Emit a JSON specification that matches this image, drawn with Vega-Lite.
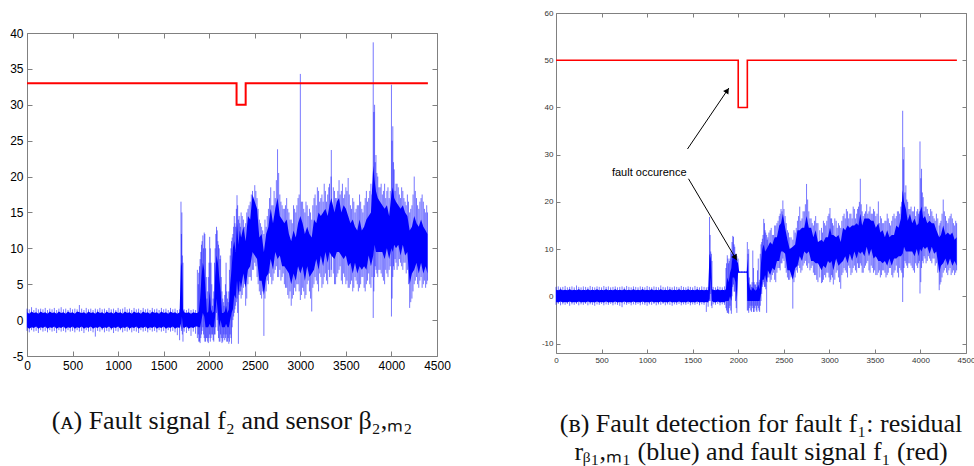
{
"$schema": "https://vega.github.io/schema/vega-lite/v6.json",
"background": "white",
"padding": {"left": 9, "top": 8, "right": 0, "bottom": 0},
"spacing": 89,
"config": {
  "locale": {"number": {"decimal": ".", "thousands": ",", "grouping": [3], "currency": ["", ""], "minus": "-"}},
  "view": {"stroke": "#808080", "strokeWidth": 1},
  "axis": {"labelFlush": false, "labelOverlap": false, "grid": false, "domain": false, "tickColor": "#808080", "labelFont": "Liberation Sans", "format": "d"}
},
"datasets": {
"sigA": [
{"t":0,"lo":-1.5,"hi":1.6,"clo":-1.0,"chi":1.1},{"t":25,"lo":-1.7,"hi":1.5,"clo":-1.2,"chi":0.9},{"t":50,"lo":-1.4,"hi":1.8,"clo":-1.0,"chi":1.2},{"t":75,"lo":-1.6,"hi":1.4,"clo":-1.1,"chi":1.0},{"t":100,"lo":-1.5,"hi":1.7,"clo":-0.9,"chi":1.1},{"t":125,"lo":-1.8,"hi":1.5,"clo":-1.2,"chi":0.9},{"t":150,"lo":-1.4,"hi":1.6,"clo":-1.0,"chi":1.2},{"t":175,"lo":-1.6,"hi":1.5,"clo":-1.1,"chi":1.0},{"t":200,"lo":-1.5,"hi":1.7,"clo":-0.9,"chi":1.1},{"t":225,"lo":-1.7,"hi":1.4,"clo":-1.2,"chi":0.9},{"t":250,"lo":-1.4,"hi":1.6,"clo":-1.0,"chi":1.2},{"t":275,"lo":-1.6,"hi":1.5,"clo":-1.1,"chi":1.0},{"t":300,"lo":-1.5,"hi":1.7,"clo":-0.9,"chi":1.1},{"t":325,"lo":-1.8,"hi":1.4,"clo":-1.2,"chi":0.9},{"t":350,"lo":-1.4,"hi":1.6,"clo":-1.0,"chi":1.2},{"t":375,"lo":-1.6,"hi":1.8,"clo":-1.1,"chi":1.0},{"t":400,"lo":-1.5,"hi":1.5,"clo":-0.9,"chi":1.1},{"t":425,"lo":-1.7,"hi":1.6,"clo":-1.2,"chi":0.9},{"t":450,"lo":-1.4,"hi":1.4,"clo":-1.0,"chi":1.2},{"t":475,"lo":-1.6,"hi":1.7,"clo":-1.1,"chi":1.0},{"t":500,"lo":-1.5,"hi":1.5,"clo":-0.9,"chi":1.1},{"t":525,"lo":-1.7,"hi":1.6,"clo":-1.2,"chi":0.9},{"t":550,"lo":-1.4,"hi":1.5,"clo":-1.0,"chi":1.2},{"t":575,"lo":-1.6,"hi":2.1,"clo":-1.1,"chi":1.1},{"t":600,"lo":-1.5,"hi":1.6,"clo":-0.9,"chi":1.0},{"t":625,"lo":-1.8,"hi":1.4,"clo":-1.2,"chi":1.1},{"t":650,"lo":-1.4,"hi":1.7,"clo":-1.0,"chi":0.9},{"t":675,"lo":-1.6,"hi":1.5,"clo":-1.1,"chi":1.2},{"t":700,"lo":-1.5,"hi":1.6,"clo":-0.9,"chi":1.0},{"t":725,"lo":-1.7,"hi":1.4,"clo":-1.2,"chi":1.1},{"t":750,"lo":-2.3,"hi":1.6,"clo":-1.0,"chi":0.9},{"t":775,"lo":-1.5,"hi":1.5,"clo":-1.1,"chi":1.2},{"t":800,"lo":-1.6,"hi":1.7,"clo":-0.9,"chi":1.0},{"t":825,"lo":-1.4,"hi":1.5,"clo":-1.2,"chi":1.1},{"t":850,"lo":-1.7,"hi":1.6,"clo":-1.0,"chi":0.9},{"t":875,"lo":-1.5,"hi":1.4,"clo":-1.1,"chi":1.2},{"t":900,"lo":-1.6,"hi":1.7,"clo":-0.9,"chi":1.0},{"t":925,"lo":-1.4,"hi":1.5,"clo":-1.2,"chi":1.1},{"t":950,"lo":-1.8,"hi":1.6,"clo":-1.0,"chi":0.9},{"t":975,"lo":-1.5,"hi":1.4,"clo":-1.1,"chi":1.2},{"t":1000,"lo":-1.6,"hi":1.7,"clo":-0.9,"chi":1.0},{"t":1025,"lo":-1.4,"hi":1.5,"clo":-1.2,"chi":1.1},{"t":1050,"lo":-1.7,"hi":1.6,"clo":-1.0,"chi":0.9},{"t":1075,"lo":-1.5,"hi":1.8,"clo":-1.1,"chi":1.2},{"t":1100,"lo":-1.6,"hi":1.5,"clo":-0.9,"chi":1.0},{"t":1125,"lo":-1.4,"hi":1.6,"clo":-1.2,"chi":1.1},{"t":1150,"lo":-1.7,"hi":1.4,"clo":-1.0,"chi":0.9},{"t":1175,"lo":-1.5,"hi":1.7,"clo":-1.1,"chi":1.2},{"t":1200,"lo":-1.6,"hi":1.5,"clo":-0.9,"chi":1.0},{"t":1225,"lo":-1.8,"hi":1.6,"clo":-1.2,"chi":1.1},{"t":1250,"lo":-1.4,"hi":1.4,"clo":-1.0,"chi":0.9},{"t":1275,"lo":-1.6,"hi":1.7,"clo":-1.1,"chi":1.2},{"t":1300,"lo":-1.5,"hi":1.5,"clo":-0.9,"chi":1.0},{"t":1325,"lo":-1.7,"hi":1.6,"clo":-1.2,"chi":1.1},{"t":1350,"lo":-1.4,"hi":1.4,"clo":-1.0,"chi":0.9},{"t":1375,"lo":-1.6,"hi":1.7,"clo":-1.1,"chi":1.2},{"t":1400,"lo":-1.5,"hi":1.5,"clo":-0.9,"chi":1.0},{"t":1425,"lo":-1.7,"hi":1.6,"clo":-1.2,"chi":1.1},{"t":1450,"lo":-1.4,"hi":1.4,"clo":-1.0,"chi":0.9},{"t":1475,"lo":-1.6,"hi":1.7,"clo":-1.1,"chi":1.2},{"t":1500,"lo":-1.5,"hi":1.5,"clo":-0.9,"chi":1.0},{"t":1525,"lo":-1.8,"hi":1.6,"clo":-1.2,"chi":1.1},{"t":1550,"lo":-1.4,"hi":1.4,"clo":-1.0,"chi":0.9},{"t":1575,"lo":-1.6,"hi":1.7,"clo":-1.1,"chi":1.2},{"t":1600,"lo":-1.5,"hi":1.5,"clo":-0.9,"chi":1.0},{"t":1625,"lo":-1.7,"hi":1.6,"clo":-1.2,"chi":1.1},{"t":1650,"lo":-2.1,"hi":1.4,"clo":-1.0,"chi":0.9},{"t":1675,"lo":-2.8,"hi":1.5,"clo":-1.1,"chi":1.1},
{"t":1690,"lo":-1.0,"hi":16.5,"clo":-0.5,"chi":8.0},{"t":1700,"lo":-1.2,"hi":15.0,"clo":0.5,"chi":7.5},{"t":1712,"lo":-3.0,"hi":8.0,"clo":-1.0,"chi":1.5},{"t":1725,"lo":-1.6,"hi":1.5,"clo":-1.1,"chi":1.1},{"t":1750,"lo":-1.8,"hi":1.4,"clo":-0.9,"chi":1.0},{"t":1775,"lo":-1.5,"hi":1.6,"clo":-1.2,"chi":1.1},{"t":1800,"lo":-2.2,"hi":1.4,"clo":-1.0,"chi":0.9},{"t":1825,"lo":-1.6,"hi":1.5,"clo":-1.1,"chi":1.1},{"t":1850,"lo":-1.9,"hi":1.4,"clo":-0.9,"chi":1.0},{"t":1870,"lo":-2.5,"hi":7.0,"clo":-0.9,"chi":1.0},{"t":1885,"lo":-3.0,"hi":6.6,"clo":-1.0,"chi":1.2},{"t":1900,"lo":-3.2,"hi":8.5,"clo":-1.0,"chi":3.0},{"t":1915,"lo":-2.0,"hi":10.5,"clo":0.0,"chi":6.0},{"t":1930,"lo":-1.0,"hi":11.8,"clo":1.0,"chi":8.0},{"t":1945,"lo":-2.5,"hi":12.2,"clo":0.5,"chi":7.0},{"t":1960,"lo":-3.0,"hi":10.0,"clo":-1.0,"chi":4.0},{"t":1975,"lo":-2.5,"hi":3.0,"clo":-1.0,"chi":1.0},{"t":1990,"lo":-3.2,"hi":6.0,"clo":-1.0,"chi":1.2},{"t":2005,"lo":-2.0,"hi":11.6,"clo":-0.5,"chi":4.0},{"t":2020,"lo":-2.5,"hi":8.0,"clo":-1.0,"chi":1.5},{"t":2035,"lo":-2.0,"hi":2.0,"clo":-1.0,"chi":1.0},{"t":2050,"lo":-3.0,"hi":4.0,"clo":-1.0,"chi":1.2},{"t":2065,"lo":-2.0,"hi":10.0,"clo":0.5,"chi":6.0},{"t":2080,"lo":1.0,"hi":13.0,"clo":3.0,"chi":9.0},{"t":2095,"lo":-1.5,"hi":11.0,"clo":1.0,"chi":8.0},{"t":2110,"lo":-3.0,"hi":10.0,"clo":-1.0,"chi":6.0},{"t":2125,"lo":-2.0,"hi":9.0,"clo":0.0,"chi":4.0},{"t":2140,"lo":-3.2,"hi":4.0,"clo":-1.0,"chi":1.0},{"t":2155,"lo":-2.5,"hi":2.5,"clo":-1.0,"chi":1.0},{"t":2170,"lo":-2.8,"hi":3.5,"clo":-1.0,"chi":1.2},{"t":2185,"lo":-2.0,"hi":8.0,"clo":-0.5,"chi":2.0},{"t":2200,"lo":-3.0,"hi":3.0,"clo":-1.0,"chi":1.0},{"t":2215,"lo":-3.3,"hi":4.0,"clo":-1.0,"chi":1.5},{"t":2230,"lo":-2.0,"hi":9.0,"clo":0.0,"chi":5.0},{"t":2245,"lo":-3.3,"hi":11.0,"clo":1.0,"chi":7.0},
{"t":2260,"lo":0.0,"hi":12.0,"clo":1.5,"chi":10.0},{"t":2275,"lo":1.0,"hi":14.5,"clo":3.5,"chi":11.0},{"t":2290,"lo":2.0,"hi":13.0,"clo":3.0,"chi":9.5},{"t":2305,"lo":3.0,"hi":17.4,"clo":5.5,"chi":13.5},{"t":2320,"lo":-3.3,"hi":14.0,"clo":3.5,"chi":10.5},{"t":2335,"lo":4.0,"hi":13.5,"clo":5.5,"chi":12.5},{"t":2350,"lo":3.0,"hi":15.0,"clo":4.5,"chi":11.5},{"t":2375,"lo":4.5,"hi":14.0,"clo":6.5,"chi":13.0},{"t":2400,"lo":2.0,"hi":13.5,"clo":4.5,"chi":11.0},{"t":2425,"lo":5.0,"hi":15.5,"clo":7.0,"chi":14.5},{"t":2450,"lo":6.0,"hi":16.5,"clo":7.5,"chi":14.0},{"t":2475,"lo":7.0,"hi":18.0,"clo":9.5,"chi":17.5},{"t":2500,"lo":8.0,"hi":18.8,"clo":9.0,"chi":16.5},{"t":2525,"lo":6.0,"hi":17.0,"clo":8.5,"chi":15.5},{"t":2550,"lo":4.0,"hi":14.0,"clo":5.5,"chi":11.5},{"t":2575,"lo":3.0,"hi":13.0,"clo":5.5,"chi":12.0},{"t":2600,"lo":-2.2,"hi":12.0,"clo":3.5,"chi":9.5},{"t":2625,"lo":4.0,"hi":13.0,"clo":6.0,"chi":12.0},{"t":2650,"lo":5.0,"hi":15.5,"clo":6.5,"chi":13.0},{"t":2675,"lo":6.0,"hi":18.5,"clo":8.5,"chi":15.5},{"t":2700,"lo":5.5,"hi":16.0,"clo":7.0,"chi":13.5},{"t":2725,"lo":7.0,"hi":17.0,"clo":9.5,"chi":15.5},{"t":2750,"lo":6.0,"hi":23.8,"clo":8.5,"chi":17.0},{"t":2775,"lo":7.0,"hi":17.5,"clo":9.0,"chi":14.5},{"t":2800,"lo":6.0,"hi":16.0,"clo":7.5,"chi":14.0},{"t":2825,"lo":5.0,"hi":15.5,"clo":7.5,"chi":13.5},{"t":2850,"lo":4.5,"hi":17.0,"clo":7.0,"chi":14.0},{"t":2875,"lo":3.0,"hi":15.0,"clo":6.5,"chi":12.0},{"t":2900,"lo":2.0,"hi":14.0,"clo":5.0,"chi":11.0},{"t":2925,"lo":3.5,"hi":16.0,"clo":6.5,"chi":12.5},{"t":2950,"lo":4.0,"hi":15.0,"clo":5.5,"chi":11.5},{"t":2975,"lo":5.0,"hi":17.0,"clo":7.5,"chi":13.5},{"t":3000,"lo":2.8,"hi":34.3,"clo":6.5,"chi":14.5},{"t":3025,"lo":4.5,"hi":16.5,"clo":7.5,"chi":13.5},{"t":3050,"lo":3.0,"hi":15.0,"clo":5.5,"chi":12.0},{"t":3075,"lo":5.0,"hi":16.0,"clo":7.5,"chi":13.0},{"t":3100,"lo":4.0,"hi":15.5,"clo":6.0,"chi":12.0},{"t":3125,"lo":1.2,"hi":14.0,"clo":6.5,"chi":11.5},{"t":3150,"lo":5.0,"hi":17.0,"clo":7.0,"chi":14.0},{"t":3175,"lo":5.5,"hi":16.0,"clo":8.5,"chi":13.5},{"t":3200,"lo":4.0,"hi":18.0,"clo":7.0,"chi":15.0},{"t":3225,"lo":6.0,"hi":17.0,"clo":9.0,"chi":14.5},{"t":3250,"lo":5.0,"hi":16.5,"clo":7.5,"chi":15.0},{"t":3275,"lo":6.5,"hi":18.0,"clo":9.5,"chi":15.5},{"t":3300,"lo":5.0,"hi":17.5,"clo":8.0,"chi":14.5},{"t":3320,"lo":6.0,"hi":19.0,"clo":9.5,"chi":16.0},{"t":3340,"lo":7.0,"hi":23.7,"clo":9.0,"chi":17.0},{"t":3375,"lo":5.0,"hi":18.0,"clo":8.5,"chi":15.0},{"t":3400,"lo":6.0,"hi":17.0,"clo":9.5,"chi":16.5},{"t":3425,"lo":7.0,"hi":19.5,"clo":9.5,"chi":17.0},{"t":3450,"lo":5.5,"hi":18.0,"clo":9.0,"chi":15.0},{"t":3475,"lo":6.5,"hi":17.0,"clo":8.5,"chi":16.0},{"t":3500,"lo":5.0,"hi":18.5,"clo":9.0,"chi":15.5},{"t":3525,"lo":4.5,"hi":19.8,"clo":7.5,"chi":14.5},{"t":3550,"lo":5.0,"hi":16.0,"clo":8.0,"chi":13.5},{"t":3575,"lo":4.0,"hi":17.0,"clo":6.5,"chi":14.0},{"t":3600,"lo":6.0,"hi":15.0,"clo":8.0,"chi":13.0},{"t":3625,"lo":5.0,"hi":16.0,"clo":6.5,"chi":12.5},{"t":3650,"lo":4.5,"hi":17.5,"clo":7.5,"chi":14.0},{"t":3675,"lo":6.0,"hi":15.5,"clo":7.0,"chi":12.5},{"t":3700,"lo":4.5,"hi":16.0,"clo":7.5,"chi":13.0},{"t":3725,"lo":5.0,"hi":18.0,"clo":7.0,"chi":14.0},{"t":3750,"lo":6.5,"hi":17.0,"clo":9.0,"chi":14.5},{"t":3775,"lo":4.5,"hi":19.0,"clo":7.5,"chi":15.0},{"t":3800,"lo":0.3,"hi":38.7,"clo":9.0,"chi":21.5},{"t":3815,"lo":6.0,"hi":30.0,"clo":10.5,"chi":19.5},{"t":3830,"lo":7.0,"hi":23.0,"clo":9.5,"chi":18.0},{"t":3850,"lo":6.0,"hi":20.0,"clo":9.5,"chi":17.0},{"t":3875,"lo":7.0,"hi":18.5,"clo":9.5,"chi":16.5},{"t":3900,"lo":6.0,"hi":17.5,"clo":9.5,"chi":16.0},{"t":3925,"lo":5.0,"hi":19.0,"clo":8.5,"chi":15.5},{"t":3950,"lo":6.5,"hi":18.0,"clo":10.0,"chi":16.0},{"t":3975,"lo":7.0,"hi":17.0,"clo":8.5,"chi":14.5},{"t":4000,"lo":0.5,"hi":32.8,"clo":10.0,"chi":17.5},{"t":4015,"lo":6.0,"hi":27.0,"clo":9.5,"chi":18.5},{"t":4030,"lo":7.0,"hi":21.0,"clo":10.5,"chi":17.0},{"t":4050,"lo":8.0,"hi":19.0,"clo":10.0,"chi":16.5},{"t":4075,"lo":7.5,"hi":18.5,"clo":10.5,"chi":16.0},{"t":4100,"lo":8.0,"hi":17.0,"clo":9.0,"chi":15.5},{"t":4125,"lo":7.0,"hi":18.0,"clo":10.5,"chi":16.0},{"t":4150,"lo":8.0,"hi":16.5,"clo":9.0,"chi":15.0},{"t":4175,"lo":7.0,"hi":17.5,"clo":9.5,"chi":14.5},{"t":4200,"lo":1.7,"hi":15.0,"clo":5.0,"chi":12.5},{"t":4225,"lo":3.0,"hi":16.0,"clo":6.5,"chi":13.0},{"t":4250,"lo":5.0,"hi":20.0,"clo":7.0,"chi":14.5},{"t":4275,"lo":6.0,"hi":17.0,"clo":8.0,"chi":13.5},{"t":4300,"lo":4.5,"hi":15.5,"clo":6.5,"chi":13.0},{"t":4325,"lo":6.0,"hi":17.0,"clo":8.0,"chi":14.0},{"t":4350,"lo":5.0,"hi":16.5,"clo":6.5,"chi":13.0},{"t":4375,"lo":4.5,"hi":15.0,"clo":7.5,"chi":12.5},{"t":4395,"lo":5.5,"hi":15.0,"clo":6.5,"chi":12.0}
],
"spkA": [
{"t":1695,"lo":-1.5,"hi":12.0},{"t":1705,"lo":-2.0,"hi":9.0},{"t":1880,"lo":-2.0,"hi":5.0},{"t":1893,"lo":-3.0,"hi":7.5},{"t":1908,"lo":-2.5,"hi":9.5},{"t":1922,"lo":-1.5,"hi":11.0},{"t":1938,"lo":-2.0,"hi":10.0},{"t":1952,"lo":-3.0,"hi":12.0},{"t":1968,"lo":-2.5,"hi":6.0},{"t":1983,"lo":-3.0,"hi":4.0},{"t":1998,"lo":-2.5,"hi":8.0},{"t":2012,"lo":-3.0,"hi":10.0},{"t":2028,"lo":-2.0,"hi":5.0},{"t":2043,"lo":-2.8,"hi":3.0},{"t":2058,"lo":-2.0,"hi":8.0},{"t":2072,"lo":-1.0,"hi":12.0},{"t":2088,"lo":0.0,"hi":12.5},{"t":2102,"lo":-2.5,"hi":10.5},{"t":2118,"lo":-3.0,"hi":8.5},{"t":2132,"lo":-2.5,"hi":6.0},{"t":2148,"lo":-3.0,"hi":3.0},{"t":2162,"lo":-2.0,"hi":2.0},{"t":2178,"lo":-2.5,"hi":5.0},{"t":2192,"lo":-3.0,"hi":4.0},{"t":2208,"lo":-2.5,"hi":2.5},{"t":2222,"lo":-3.0,"hi":7.0},{"t":2238,"lo":-2.5,"hi":10.0},{"t":2252,"lo":-1.0,"hi":11.5},{"t":2268,"lo":0.5,"hi":13.0},{"t":2282,"lo":1.5,"hi":13.5},{"t":2298,"lo":2.5,"hi":15.5},{"t":2312,"lo":1.0,"hi":16.0},{"t":2328,"lo":3.5,"hi":14.5},{"t":2342,"lo":4.0,"hi":13.0},
{"t":2362,"lo":3.5,"hi":14.5},{"t":2387,"lo":5.0,"hi":13.0},{"t":2412,"lo":3.0,"hi":15.0},{"t":2437,"lo":6.0,"hi":16.0},{"t":2462,"lo":5.5,"hi":17.5},{"t":2487,"lo":7.0,"hi":16.5},{"t":2512,"lo":7.5,"hi":18.0},{"t":2537,"lo":5.0,"hi":15.5},{"t":2562,"lo":3.5,"hi":13.5},{"t":2587,"lo":4.0,"hi":12.5},{"t":2612,"lo":3.0,"hi":14.0},{"t":2637,"lo":5.5,"hi":14.5},{"t":2662,"lo":6.5,"hi":17.0},{"t":2687,"lo":5.0,"hi":16.0},{"t":2712,"lo":6.5,"hi":18.0},{"t":2737,"lo":7.5,"hi":19.5},{"t":2762,"lo":6.0,"hi":20.5},{"t":2787,"lo":5.5,"hi":16.5},{"t":2812,"lo":6.5,"hi":15.5},{"t":2837,"lo":4.5,"hi":16.0},{"t":2862,"lo":3.5,"hi":15.5},{"t":2887,"lo":4.0,"hi":14.0},{"t":2912,"lo":3.0,"hi":13.5},{"t":2937,"lo":4.5,"hi":15.5},{"t":2962,"lo":5.0,"hi":16.0},{"t":2987,"lo":4.0,"hi":17.5},{"t":3012,"lo":3.5,"hi":16.5},{"t":3037,"lo":4.0,"hi":15.5},{"t":3062,"lo":3.5,"hi":16.5},{"t":3087,"lo":5.5,"hi":14.5},{"t":3112,"lo":3.0,"hi":15.0},{"t":3137,"lo":4.5,"hi":16.0},{"t":3162,"lo":6.0,"hi":17.5},{"t":3187,"lo":5.0,"hi":18.5},{"t":3212,"lo":6.5,"hi":16.5},{"t":3237,"lo":4.5,"hi":17.5},{"t":3262,"lo":6.0,"hi":19.0},{"t":3287,"lo":5.5,"hi":16.5},{"t":3312,"lo":7.0,"hi":18.5},{"t":3337,"lo":6.0,"hi":20.0},{"t":3362,"lo":6.5,"hi":18.5},{"t":3387,"lo":5.0,"hi":17.0},{"t":3412,"lo":6.5,"hi":18.0},{"t":3437,"lo":7.5,"hi":17.5},{"t":3462,"lo":5.0,"hi":19.0},{"t":3487,"lo":6.0,"hi":17.5},{"t":3512,"lo":5.5,"hi":18.0},{"t":3537,"lo":4.5,"hi":17.5},{"t":3562,"lo":5.5,"hi":15.5},{"t":3587,"lo":4.5,"hi":16.5},{"t":3612,"lo":5.5,"hi":15.5},{"t":3637,"lo":4.0,"hi":16.0},{"t":3662,"lo":5.0,"hi":16.5},{"t":3687,"lo":6.0,"hi":15.0},{"t":3712,"lo":4.0,"hi":17.0},{"t":3737,"lo":5.5,"hi":16.5},{"t":3762,"lo":5.0,"hi":18.0},{"t":3787,"lo":6.0,"hi":17.5},{"t":3807,"lo":4.0,"hi":29.0},{"t":3822,"lo":7.5,"hi":22.0},{"t":3840,"lo":6.5,"hi":20.5},{"t":3862,"lo":7.0,"hi":18.5},{"t":3887,"lo":6.5,"hi":19.0},{"t":3912,"lo":5.5,"hi":18.0},{"t":3937,"lo":7.0,"hi":17.0},{"t":3962,"lo":6.0,"hi":18.5},{"t":3987,"lo":7.5,"hi":18.0},{"t":4007,"lo":3.0,"hi":25.0},{"t":4022,"lo":7.5,"hi":22.0},{"t":4040,"lo":8.5,"hi":18.0},{"t":4062,"lo":7.0,"hi":19.0},{"t":4087,"lo":8.5,"hi":17.5},{"t":4112,"lo":7.5,"hi":18.5},{"t":4137,"lo":8.0,"hi":17.0},{"t":4162,"lo":6.5,"hi":16.0},{"t":4187,"lo":5.0,"hi":16.5},{"t":4212,"lo":2.5,"hi":15.5},{"t":4237,"lo":4.0,"hi":17.5},{"t":4262,"lo":5.5,"hi":18.0},{"t":4287,"lo":5.0,"hi":16.0},{"t":4312,"lo":5.5,"hi":16.5},{"t":4337,"lo":4.5,"hi":17.5},{"t":4362,"lo":5.5,"hi":15.5},{"t":4387,"lo":5.0,"hi":16.0}
],
"sigB": [
{"t":0,"lo":-1.8,"hi":2.0,"clo":-1.2,"chi":1.4},{"t":25,"lo":-1.6,"hi":2.1,"clo":-1.3,"chi":1.3},{"t":50,"lo":-1.9,"hi":1.9,"clo":-1.1,"chi":1.5},{"t":75,"lo":-1.7,"hi":2.0,"clo":-1.3,"chi":1.3},{"t":100,"lo":-1.8,"hi":2.2,"clo":-1.2,"chi":1.4},{"t":125,"lo":-1.6,"hi":1.9,"clo":-1.3,"chi":1.3},{"t":150,"lo":-2.0,"hi":2.0,"clo":-1.1,"chi":1.5},{"t":175,"lo":-1.7,"hi":2.1,"clo":-1.3,"chi":1.3},{"t":200,"lo":-1.8,"hi":1.9,"clo":-1.2,"chi":1.4},{"t":225,"lo":-1.6,"hi":2.3,"clo":-1.3,"chi":1.3},{"t":250,"lo":-1.9,"hi":2.0,"clo":-1.1,"chi":1.5},{"t":275,"lo":-1.7,"hi":1.9,"clo":-1.3,"chi":1.3},{"t":300,"lo":-1.8,"hi":2.1,"clo":-1.2,"chi":1.4},{"t":325,"lo":-1.6,"hi":2.0,"clo":-1.3,"chi":1.3},{"t":350,"lo":-1.9,"hi":1.9,"clo":-1.1,"chi":1.5},{"t":375,"lo":-1.7,"hi":2.2,"clo":-1.3,"chi":1.3},{"t":400,"lo":-1.8,"hi":2.0,"clo":-1.2,"chi":1.4},{"t":425,"lo":-2.0,"hi":1.9,"clo":-1.3,"chi":1.3},{"t":450,"lo":-1.7,"hi":2.1,"clo":-1.1,"chi":1.5},{"t":475,"lo":-1.8,"hi":2.0,"clo":-1.3,"chi":1.3},{"t":500,"lo":-1.6,"hi":1.9,"clo":-1.2,"chi":1.4},{"t":525,"lo":-1.9,"hi":2.2,"clo":-1.3,"chi":1.3},{"t":550,"lo":-1.7,"hi":2.0,"clo":-1.1,"chi":1.5},{"t":575,"lo":-1.8,"hi":2.1,"clo":-1.3,"chi":1.3},{"t":600,"lo":-1.6,"hi":1.9,"clo":-1.2,"chi":1.4},{"t":625,"lo":-1.9,"hi":2.0,"clo":-1.3,"chi":1.3},{"t":650,"lo":-1.7,"hi":2.1,"clo":-1.1,"chi":1.5},{"t":675,"lo":-1.8,"hi":1.9,"clo":-1.3,"chi":1.3},{"t":700,"lo":-2.0,"hi":2.0,"clo":-1.2,"chi":1.4},{"t":725,"lo":-2.3,"hi":2.1,"clo":-1.3,"chi":1.3},{"t":750,"lo":-1.7,"hi":1.9,"clo":-1.1,"chi":1.5},{"t":775,"lo":-1.8,"hi":2.2,"clo":-1.3,"chi":1.3},{"t":800,"lo":-1.6,"hi":2.0,"clo":-1.2,"chi":1.4},{"t":825,"lo":-1.9,"hi":1.9,"clo":-1.3,"chi":1.3},{"t":850,"lo":-1.7,"hi":2.1,"clo":-1.1,"chi":1.5},{"t":875,"lo":-1.8,"hi":2.0,"clo":-1.3,"chi":1.3},{"t":900,"lo":-1.6,"hi":1.9,"clo":-1.2,"chi":1.4},{"t":925,"lo":-1.9,"hi":2.1,"clo":-1.3,"chi":1.3},{"t":950,"lo":-1.7,"hi":2.0,"clo":-1.1,"chi":1.5},{"t":975,"lo":-1.8,"hi":1.9,"clo":-1.3,"chi":1.3},{"t":1000,"lo":-2.0,"hi":2.2,"clo":-1.2,"chi":1.4},{"t":1025,"lo":-1.7,"hi":2.0,"clo":-1.3,"chi":1.3},{"t":1050,"lo":-1.8,"hi":1.9,"clo":-1.1,"chi":1.5},{"t":1075,"lo":-1.6,"hi":2.1,"clo":-1.3,"chi":1.3},{"t":1100,"lo":-1.9,"hi":2.0,"clo":-1.2,"chi":1.4},{"t":1125,"lo":-1.7,"hi":1.9,"clo":-1.3,"chi":1.3},{"t":1150,"lo":-1.8,"hi":2.3,"clo":-1.1,"chi":1.5},{"t":1175,"lo":-1.6,"hi":2.0,"clo":-1.3,"chi":1.3},{"t":1200,"lo":-1.9,"hi":1.9,"clo":-1.2,"chi":1.4},{"t":1225,"lo":-1.7,"hi":2.1,"clo":-1.3,"chi":1.3},{"t":1250,"lo":-1.8,"hi":2.0,"clo":-1.1,"chi":1.5},{"t":1275,"lo":-2.0,"hi":1.9,"clo":-1.3,"chi":1.3},{"t":1300,"lo":-1.7,"hi":2.1,"clo":-1.2,"chi":1.4},{"t":1325,"lo":-1.8,"hi":2.0,"clo":-1.3,"chi":1.3},{"t":1350,"lo":-1.6,"hi":1.9,"clo":-1.1,"chi":1.5},{"t":1375,"lo":-1.9,"hi":2.2,"clo":-1.3,"chi":1.3},{"t":1400,"lo":-1.7,"hi":2.0,"clo":-1.2,"chi":1.4},{"t":1425,"lo":-1.8,"hi":1.9,"clo":-1.3,"chi":1.3},{"t":1450,"lo":-1.6,"hi":2.1,"clo":-1.1,"chi":1.5},{"t":1475,"lo":-1.9,"hi":2.0,"clo":-1.3,"chi":1.3},{"t":1500,"lo":-1.7,"hi":1.9,"clo":-1.2,"chi":1.4},{"t":1525,"lo":-1.8,"hi":2.2,"clo":-1.3,"chi":1.3},{"t":1550,"lo":-1.6,"hi":2.0,"clo":-1.1,"chi":1.5},{"t":1575,"lo":-1.9,"hi":1.9,"clo":-1.3,"chi":1.3},{"t":1600,"lo":-1.7,"hi":2.1,"clo":-1.2,"chi":1.4},{"t":1625,"lo":-1.8,"hi":2.0,"clo":-1.3,"chi":1.3},{"t":1650,"lo":-3.3,"hi":1.9,"clo":-1.2,"chi":1.4},{"t":1670,"lo":-2.2,"hi":2.0,"clo":-1.3,"chi":1.3},
{"t":1685,"lo":-1.0,"hi":16.8,"clo":-0.5,"chi":9.0},{"t":1698,"lo":0.5,"hi":9.5,"clo":4.0,"chi":8.0},{"t":1712,"lo":-2.5,"hi":7.5,"clo":-1.0,"chi":1.5},{"t":1725,"lo":-1.7,"hi":2.0,"clo":-1.2,"chi":1.4},{"t":1750,"lo":-1.8,"hi":1.9,"clo":-1.3,"chi":1.3},{"t":1775,"lo":-1.6,"hi":2.1,"clo":-1.1,"chi":1.5},{"t":1800,"lo":-1.9,"hi":2.0,"clo":-1.3,"chi":1.3},{"t":1825,"lo":-1.7,"hi":1.9,"clo":-1.2,"chi":1.4},{"t":1850,"lo":-1.8,"hi":2.1,"clo":-1.3,"chi":1.3},{"t":1865,"lo":-2.5,"hi":6.0,"clo":-1.0,"chi":1.5},{"t":1880,"lo":-3.5,"hi":8.7,"clo":-1.0,"chi":4.0},{"t":1895,"lo":-3.7,"hi":7.0,"clo":-1.0,"chi":3.0},{"t":1910,"lo":-2.0,"hi":8.0,"clo":0.0,"chi":5.0},{"t":1925,"lo":-3.7,"hi":9.0,"clo":-1.0,"chi":6.0},{"t":1940,"lo":2.0,"hi":12.8,"clo":4.0,"chi":9.0},{"t":1955,"lo":1.0,"hi":11.0,"clo":4.0,"chi":8.5},{"t":1970,"lo":-1.0,"hi":9.0,"clo":3.0,"chi":8.0},{"t":1985,"lo":-3.5,"hi":8.5,"clo":-1.0,"chi":7.5},{"t":1998,"lo":4.9,"hi":8.0,"clo":5.0,"chi":7.0},{"t":2010,"lo":5.0,"hi":5.3,"clo":5.0,"chi":5.25},{"t":2040,"lo":5.0,"hi":5.3,"clo":5.0,"chi":5.25},{"t":2070,"lo":5.0,"hi":5.3,"clo":5.0,"chi":5.25},{"t":2094,"lo":5.0,"hi":5.3,"clo":5.0,"chi":5.25},
{"t":2100,"lo":-3.0,"hi":11.5,"clo":-1.0,"chi":8.0},{"t":2115,"lo":-3.5,"hi":10.0,"clo":-1.0,"chi":3.0},{"t":2130,"lo":-2.0,"hi":2.5,"clo":-1.0,"chi":1.5},{"t":2145,"lo":-3.3,"hi":2.0,"clo":-1.0,"chi":1.2},{"t":2160,"lo":-2.5,"hi":9.7,"clo":-1.0,"chi":2.0},{"t":2175,"lo":-3.3,"hi":3.0,"clo":-1.0,"chi":1.5},{"t":2190,"lo":-2.0,"hi":2.5,"clo":-1.0,"chi":1.2},{"t":2205,"lo":-3.3,"hi":3.0,"clo":-1.0,"chi":1.5},{"t":2220,"lo":-2.5,"hi":8.0,"clo":-1.0,"chi":2.5},{"t":2235,"lo":-3.3,"hi":3.5,"clo":-1.0,"chi":1.5},
{"t":2250,"lo":-1.0,"hi":11.0,"clo":0.5,"chi":7.0},{"t":2265,"lo":2.0,"hi":12.2,"clo":3.5,"chi":10.0},{"t":2280,"lo":3.0,"hi":16.4,"clo":3.5,"chi":11.0},{"t":2295,"lo":2.0,"hi":14.0,"clo":4.5,"chi":9.5},{"t":2312,"lo":-3.5,"hi":13.0,"clo":3.0,"chi":10.0},{"t":2325,"lo":4.0,"hi":12.5,"clo":5.5,"chi":10.5},{"t":2350,"lo":3.0,"hi":14.0,"clo":4.5,"chi":11.5},{"t":2375,"lo":4.5,"hi":13.0,"clo":6.0,"chi":11.0},{"t":2400,"lo":3.5,"hi":15.0,"clo":5.5,"chi":12.5},{"t":2425,"lo":5.0,"hi":15.5,"clo":7.5,"chi":12.5},{"t":2450,"lo":6.0,"hi":17.0,"clo":7.5,"chi":15.0},{"t":2470,"lo":7.0,"hi":18.5,"clo":9.5,"chi":15.5},{"t":2490,"lo":8.0,"hi":20.3,"clo":9.5,"chi":17.5},{"t":2515,"lo":6.0,"hi":17.0,"clo":9.0,"chi":14.5},{"t":2540,"lo":4.0,"hi":14.0,"clo":5.5,"chi":12.0},{"t":2565,"lo":3.5,"hi":12.5,"clo":5.5,"chi":10.0},{"t":2599,"lo":-2.6,"hi":12.0,"clo":3.5,"chi":10.5},{"t":2625,"lo":4.0,"hi":13.5,"clo":6.0,"chi":11.0},{"t":2650,"lo":5.0,"hi":16.0,"clo":6.5,"chi":14.0},{"t":2675,"lo":6.0,"hi":19.0,"clo":8.5,"chi":14.0},{"t":2700,"lo":5.5,"hi":16.5,"clo":7.5,"chi":14.5},{"t":2725,"lo":7.0,"hi":18.0,"clo":9.5,"chi":14.5},{"t":2750,"lo":6.5,"hi":23.8,"clo":9.0,"chi":17.0},{"t":2775,"lo":7.0,"hi":18.0,"clo":9.5,"chi":14.5},{"t":2800,"lo":6.0,"hi":16.5,"clo":7.5,"chi":14.5},{"t":2825,"lo":5.0,"hi":15.0,"clo":7.5,"chi":12.5},{"t":2850,"lo":4.5,"hi":17.0,"clo":7.0,"chi":14.0},{"t":2875,"lo":3.0,"hi":15.5,"clo":7.0,"chi":11.5},{"t":2914,"lo":2.8,"hi":14.5,"clo":5.5,"chi":12.0},{"t":2935,"lo":3.5,"hi":16.0,"clo":6.5,"chi":11.5},{"t":2960,"lo":4.0,"hi":15.0,"clo":6.0,"chi":12.5},{"t":2985,"lo":5.0,"hi":17.0,"clo":7.5,"chi":12.5},{"t":3007,"lo":3.0,"hi":18.7,"clo":7.0,"chi":14.5},{"t":3025,"lo":4.5,"hi":16.5,"clo":7.5,"chi":13.0},{"t":3044,"lo":2.5,"hi":15.0,"clo":5.5,"chi":13.0},{"t":3075,"lo":5.0,"hi":16.0,"clo":8.0,"chi":12.5},{"t":3100,"lo":4.0,"hi":15.5,"clo":6.5,"chi":13.0},{"t":3125,"lo":1.6,"hi":14.5,"clo":7.0,"chi":11.5},{"t":3150,"lo":5.0,"hi":17.0,"clo":7.5,"chi":14.5},{"t":3175,"lo":5.5,"hi":16.5,"clo":8.5,"chi":14.0},{"t":3200,"lo":4.0,"hi":18.0,"clo":7.0,"chi":15.0},{"t":3225,"lo":6.0,"hi":17.5,"clo":9.0,"chi":14.5},{"t":3250,"lo":5.0,"hi":16.5,"clo":7.5,"chi":15.0},{"t":3275,"lo":6.5,"hi":18.5,"clo":9.5,"chi":15.0},{"t":3300,"lo":5.0,"hi":17.5,"clo":8.0,"chi":15.5},{"t":3320,"lo":6.0,"hi":19.0,"clo":9.5,"chi":15.0},{"t":3340,"lo":7.0,"hi":24.9,"clo":9.0,"chi":17.5},{"t":3360,"lo":5.0,"hi":18.0,"clo":9.5,"chi":15.0},{"t":3385,"lo":6.0,"hi":17.5,"clo":8.5,"chi":16.5},{"t":3410,"lo":7.0,"hi":19.5,"clo":10.5,"chi":16.5},{"t":3435,"lo":5.5,"hi":18.0,"clo":8.5,"chi":16.5},{"t":3460,"lo":6.5,"hi":17.5,"clo":10.0,"chi":16.0},{"t":3485,"lo":5.0,"hi":18.5,"clo":8.0,"chi":16.0},{"t":3510,"lo":4.5,"hi":17.0,"clo":8.5,"chi":14.5},{"t":3538,"lo":5.0,"hi":20.1,"clo":7.5,"chi":15.5},{"t":3560,"lo":4.0,"hi":17.0,"clo":7.5,"chi":13.5},{"t":3585,"lo":5.5,"hi":15.5,"clo":7.0,"chi":14.0},{"t":3610,"lo":5.0,"hi":16.0,"clo":7.5,"chi":12.5},{"t":3635,"lo":4.5,"hi":17.5,"clo":6.5,"chi":14.0},{"t":3660,"lo":6.0,"hi":15.5,"clo":8.0,"chi":12.5},{"t":3685,"lo":4.5,"hi":16.0,"clo":6.5,"chi":13.0},{"t":3710,"lo":5.0,"hi":17.5,"clo":8.0,"chi":13.0},{"t":3735,"lo":6.5,"hi":17.0,"clo":8.0,"chi":15.0},{"t":3760,"lo":4.0,"hi":18.0,"clo":8.5,"chi":14.5},{"t":3785,"lo":5.5,"hi":19.0,"clo":8.5,"chi":16.5},{"t":3805,"lo":-1.2,"hi":39.3,"clo":9.0,"chi":22.5},{"t":3820,"lo":6.0,"hi":31.6,"clo":10.5,"chi":20.0},{"t":3840,"lo":7.0,"hi":23.5,"clo":9.5,"chi":18.5},{"t":3860,"lo":6.0,"hi":20.0,"clo":9.5,"chi":16.0},{"t":3885,"lo":7.0,"hi":18.5,"clo":9.5,"chi":17.5},{"t":3910,"lo":6.0,"hi":18.0,"clo":9.5,"chi":15.5},{"t":3935,"lo":5.0,"hi":19.0,"clo":8.5,"chi":16.5},{"t":3960,"lo":6.5,"hi":18.0,"clo":10.0,"chi":15.0},{"t":3980,"lo":7.0,"hi":17.5,"clo":8.5,"chi":15.5},{"t":3995,"lo":0.6,"hi":32.8,"clo":10.0,"chi":18.0},{"t":4012,"lo":6.0,"hi":27.0,"clo":9.5,"chi":19.0},{"t":4030,"lo":7.0,"hi":21.0,"clo":10.5,"chi":16.5},{"t":4050,"lo":8.0,"hi":19.0,"clo":10.0,"chi":17.0},{"t":4075,"lo":7.5,"hi":18.5,"clo":10.5,"chi":15.5},{"t":4100,"lo":8.0,"hi":17.0,"clo":9.0,"chi":16.0},{"t":4125,"lo":7.0,"hi":18.0,"clo":10.5,"chi":15.5},{"t":4150,"lo":8.0,"hi":16.5,"clo":9.0,"chi":15.5},{"t":4175,"lo":7.0,"hi":17.5,"clo":9.5,"chi":14.0},{"t":4206,"lo":1.3,"hi":15.0,"clo":5.0,"chi":12.5},{"t":4225,"lo":3.0,"hi":16.0,"clo":6.5,"chi":13.0},{"t":4250,"lo":5.0,"hi":20.5,"clo":7.0,"chi":15.0},{"t":4275,"lo":6.0,"hi":17.0,"clo":8.0,"chi":13.0},{"t":4300,"lo":4.5,"hi":15.5,"clo":6.5,"chi":13.5},{"t":4325,"lo":6.0,"hi":17.0,"clo":8.0,"chi":13.0},{"t":4350,"lo":5.0,"hi":16.5,"clo":6.5,"chi":13.5},{"t":4375,"lo":4.5,"hi":15.0,"clo":7.5,"chi":12.0},{"t":4397,"lo":5.5,"hi":15.5,"clo":6.5,"chi":12.5}
],
"spkB": [
{"t":1692,"lo":-1.0,"hi":13.0},{"t":1705,"lo":-2.0,"hi":9.0},{"t":1872,"lo":-3.0,"hi":7.0},{"t":1888,"lo":-3.5,"hi":8.0},{"t":1902,"lo":-2.5,"hi":7.5},{"t":1918,"lo":-3.0,"hi":9.5},{"t":1932,"lo":0.0,"hi":11.5},{"t":1948,"lo":2.5,"hi":12.6},{"t":1962,"lo":1.0,"hi":10.5},{"t":1978,"lo":-2.5,"hi":9.0},{"t":2108,"lo":-3.0,"hi":9.0},{"t":2122,"lo":-2.5,"hi":4.0},{"t":2138,"lo":-3.0,"hi":2.5},{"t":2152,"lo":-2.0,"hi":3.0},{"t":2168,"lo":-3.3,"hi":6.0},{"t":2182,"lo":-2.5,"hi":2.5},{"t":2198,"lo":-3.0,"hi":2.0},{"t":2212,"lo":-2.0,"hi":5.5},{"t":2228,"lo":-3.0,"hi":3.0},{"t":2242,"lo":-2.0,"hi":9.0},{"t":2258,"lo":0.5,"hi":11.5},{"t":2272,"lo":2.5,"hi":13.0},{"t":2288,"lo":2.0,"hi":15.5},{"t":2302,"lo":1.5,"hi":13.5},{"t":2318,"lo":3.0,"hi":12.0},{"t":2337,"lo":4.0,"hi":13.5},{"t":2362,"lo":3.5,"hi":14.5},{"t":2387,"lo":5.0,"hi":13.0},{"t":2412,"lo":3.0,"hi":15.0},{"t":2437,"lo":6.0,"hi":16.0},{"t":2460,"lo":5.5,"hi":17.5},{"t":2480,"lo":7.0,"hi":18.0},{"t":2502,"lo":7.5,"hi":18.5},{"t":2527,"lo":5.0,"hi":15.5},{"t":2552,"lo":3.5,"hi":13.5},{"t":2580,"lo":4.0,"hi":12.5},{"t":2612,"lo":3.0,"hi":14.0},{"t":2637,"lo":5.5,"hi":14.5},{"t":2662,"lo":6.5,"hi":17.0},{"t":2687,"lo":5.0,"hi":16.0},{"t":2712,"lo":6.5,"hi":18.0},{"t":2737,"lo":7.5,"hi":19.5},{"t":2762,"lo":6.0,"hi":20.5},{"t":2787,"lo":5.5,"hi":16.5},{"t":2812,"lo":6.5,"hi":15.5},{"t":2837,"lo":4.5,"hi":16.0},{"t":2862,"lo":3.5,"hi":15.5},{"t":2895,"lo":4.0,"hi":14.0},{"t":2925,"lo":3.0,"hi":13.5},{"t":2948,"lo":4.5,"hi":15.5},{"t":2972,"lo":5.0,"hi":16.0},{"t":2996,"lo":4.0,"hi":17.5},{"t":3016,"lo":3.5,"hi":16.5},{"t":3035,"lo":4.0,"hi":15.5},{"t":3060,"lo":3.5,"hi":16.5},{"t":3087,"lo":5.5,"hi":14.5},{"t":3112,"lo":3.0,"hi":15.0},{"t":3137,"lo":4.5,"hi":16.0},{"t":3162,"lo":6.0,"hi":17.5},{"t":3187,"lo":5.0,"hi":18.5},{"t":3212,"lo":6.5,"hi":16.5},{"t":3237,"lo":4.5,"hi":17.5},{"t":3262,"lo":6.0,"hi":19.0},{"t":3287,"lo":5.5,"hi":16.5},{"t":3310,"lo":7.0,"hi":18.5},{"t":3330,"lo":6.0,"hi":20.0},{"t":3350,"lo":6.5,"hi":19.5},{"t":3372,"lo":5.0,"hi":17.0},{"t":3397,"lo":6.5,"hi":18.0},{"t":3422,"lo":7.5,"hi":17.5},{"t":3447,"lo":5.0,"hi":19.0},{"t":3472,"lo":6.0,"hi":17.5},{"t":3497,"lo":5.5,"hi":18.0},{"t":3524,"lo":4.5,"hi":17.5},{"t":3549,"lo":5.5,"hi":15.5},{"t":3572,"lo":4.5,"hi":16.5},{"t":3597,"lo":5.5,"hi":15.5},{"t":3622,"lo":4.0,"hi":16.0},{"t":3647,"lo":5.0,"hi":16.5},{"t":3672,"lo":6.0,"hi":15.0},{"t":3697,"lo":4.0,"hi":17.0},{"t":3722,"lo":5.5,"hi":16.5},{"t":3747,"lo":5.0,"hi":18.0},{"t":3772,"lo":6.0,"hi":17.5},{"t":3795,"lo":5.0,"hi":20.0},{"t":3812,"lo":4.0,"hi":29.0},{"t":3830,"lo":7.5,"hi":22.0},{"t":3850,"lo":6.5,"hi":20.5},{"t":3872,"lo":7.0,"hi":18.5},{"t":3897,"lo":6.5,"hi":19.0},{"t":3922,"lo":5.5,"hi":18.0},{"t":3947,"lo":7.0,"hi":17.0},{"t":3970,"lo":6.0,"hi":18.5},{"t":3988,"lo":7.5,"hi":18.0},{"t":4004,"lo":3.0,"hi":25.0},{"t":4021,"lo":7.5,"hi":22.0},{"t":4040,"lo":8.5,"hi":18.0},{"t":4062,"lo":7.0,"hi":19.0},{"t":4087,"lo":8.5,"hi":17.5},{"t":4112,"lo":7.5,"hi":18.5},{"t":4137,"lo":8.0,"hi":17.0},{"t":4162,"lo":6.5,"hi":16.0},{"t":4190,"lo":5.0,"hi":16.5},{"t":4215,"lo":2.5,"hi":15.5},{"t":4237,"lo":4.0,"hi":17.5},{"t":4262,"lo":5.5,"hi":18.0},{"t":4287,"lo":5.0,"hi":16.0},{"t":4312,"lo":5.5,"hi":16.5},{"t":4337,"lo":4.5,"hi":17.5},{"t":4362,"lo":5.5,"hi":15.5},{"t":4387,"lo":5.0,"hi":16.0}
],
"redA": [{"t":0,"v":33},{"t":2300,"v":30},{"t":2400,"v":33},{"t":4400,"v":33}],
"redB": [{"t":0,"v":50},{"t":2000,"v":40},{"t":2100,"v":50},{"t":4400,"v":50}],
"arrows": [{"t":1443,"v":31.2,"t2":1897,"v2":44.1},{"t":1454,"v":24.9,"t2":1985,"v2":7.6}],
"head1": [{"t":1880,"v":43.6}],
"head2": [{"t":1969,"v":8.2}],
"note": [{"t":1023,"v":26.2,"label":"fault occurence"}]
},
"hconcat": [
{
  "spacing": 9,
  "vconcat": [
    {"width": 410, "height": 1, "view": {"stroke": null}, "data": {"values": [{"a": 0}]}, "mark": {"type": "point", "opacity": 0}},
    {
      "width": 410, "height": 323,
      "title": {"text": "(ᴀ) Fault signal f₂ and sensor β₂,ₘ₂", "orient": "bottom", "anchor": "middle", "offset": 37, "font": "Liberation Serif", "fontSize": 26, "fontWeight": "normal", "color": "#111111"},
      "resolve": {"axis": {"x": "independent", "y": "independent"}},
      "layer": [
        {"data": {"name": "sigA"}, "mark": {"type": "rule", "color": "#0000ff", "opacity": 0.6, "strokeWidth": 0.9},
         "encoding": {
           "x": {"field": "t", "type": "quantitative", "scale": {"domain": [0, 4500], "nice": false}, "axis": {"orient": "bottom", "values": [0,500,1000,1500,2000,2500,3000,3500,4000,4500], "tickSize": -5, "labelPadding": 9, "labelFontSize": 12, "labelColor": "#000000", "title": null}},
           "y": {"field": "lo", "type": "quantitative", "scale": {"domain": [-5, 40], "nice": false}, "axis": {"orient": "left", "values": [-5,0,5,10,15,20,25,30,35,40], "tickSize": -5, "labelPadding": 9, "labelFontSize": 12, "labelColor": "#000000", "title": null}},
           "y2": {"field": "hi"}}},
        {"data": {"name": "spkA"}, "mark": {"type": "rule", "color": "#0000ff", "opacity": 0.6, "strokeWidth": 0.9},
         "encoding": {
           "x": {"field": "t", "type": "quantitative", "axis": null},
           "y": {"field": "lo", "type": "quantitative", "axis": null},
           "y2": {"field": "hi"}}},
        {"data": {"name": "sigA"}, "mark": {"type": "area", "color": "#0000ff", "opacity": 1},
         "encoding": {
           "x": {"field": "t", "type": "quantitative", "axis": null},
           "y": {"field": "clo", "type": "quantitative", "axis": null},
           "y2": {"field": "chi"}}},
        {"data": {"name": "redA"}, "mark": {"type": "line", "color": "#ff0000", "strokeWidth": 2, "interpolate": "step-after"},
         "encoding": {
           "x": {"field": "t", "type": "quantitative", "axis": null},
           "y": {"field": "v", "type": "quantitative", "axis": null}}},
        {"data": {"name": "redA"}, "mark": {"type": "line", "opacity": 0},
         "encoding": {
           "x": {"field": "t", "type": "quantitative", "axis": {"orient": "top", "values": [0,500,1000,1500,2000,2500,3000,3500,4000,4500], "tickSize": -5, "labels": false, "title": null}},
           "y": {"field": "v", "type": "quantitative", "axis": {"orient": "right", "values": [-5,0,5,10,15,20,25,30,35,40], "tickSize": -5, "labels": false, "title": null}}}}
      ]
    }
  ]
},
{
  "width": 410, "height": 340,
  "title": {"text": ["(ʙ) Fault detection for fault f₁: residual", "rᵦ₁,ₘ₁ (blue) and fault signal f₁ (red)"], "orient": "bottom", "anchor": "middle", "offset": 47, "lineHeight": 28, "font": "Liberation Serif", "fontSize": 26, "fontWeight": "normal", "color": "#111111"},
  "resolve": {"axis": {"x": "independent", "y": "independent"}},
  "layer": [
    {"data": {"name": "sigB"}, "mark": {"type": "rule", "color": "#0000ff", "opacity": 0.6, "strokeWidth": 0.9},
     "encoding": {
       "x": {"field": "t", "type": "quantitative", "scale": {"domain": [0, 4500], "nice": false}, "axis": {"orient": "bottom", "values": [0,500,1000,1500,2000,2500,3000,3500,4000,4500], "tickSize": -4, "labelPadding": 7, "labelFontSize": 8, "labelColor": "#333333", "title": null}},
       "y": {"field": "lo", "type": "quantitative", "scale": {"domain": [-12, 60], "nice": false}, "axis": {"orient": "left", "values": [-10,0,10,20,30,40,50,60], "tickSize": -4, "labelPadding": 7, "labelFontSize": 8, "labelColor": "#333333", "title": null}},
       "y2": {"field": "hi"}}},
    {"data": {"name": "spkB"}, "mark": {"type": "rule", "color": "#0000ff", "opacity": 0.6, "strokeWidth": 0.9},
     "encoding": {
       "x": {"field": "t", "type": "quantitative", "axis": null},
       "y": {"field": "lo", "type": "quantitative", "axis": null},
       "y2": {"field": "hi"}}},
    {"data": {"name": "sigB"}, "mark": {"type": "area", "color": "#0000ff", "opacity": 1},
     "encoding": {
       "x": {"field": "t", "type": "quantitative", "axis": null},
       "y": {"field": "clo", "type": "quantitative", "axis": null},
       "y2": {"field": "chi"}}},
    {"data": {"name": "redB"}, "mark": {"type": "line", "color": "#ff0000", "strokeWidth": 1.6, "interpolate": "step-after"},
     "encoding": {
       "x": {"field": "t", "type": "quantitative", "axis": null},
       "y": {"field": "v", "type": "quantitative", "axis": null}}},
    {"data": {"name": "arrows"}, "mark": {"type": "rule", "color": "#000000", "strokeWidth": 1},
     "encoding": {
       "x": {"field": "t", "type": "quantitative", "axis": null},
       "y": {"field": "v", "type": "quantitative", "axis": null},
       "x2": {"field": "t2"}, "y2": {"field": "v2"}}},
    {"data": {"name": "head1"}, "mark": {"type": "point", "shape": "triangle-up", "filled": true, "color": "#000000", "size": 40, "angle": 34, "opacity": 1},
     "encoding": {
       "x": {"field": "t", "type": "quantitative", "axis": null},
       "y": {"field": "v", "type": "quantitative", "axis": null}}},
    {"data": {"name": "head2"}, "mark": {"type": "point", "shape": "triangle-up", "filled": true, "color": "#000000", "size": 40, "angle": 149, "opacity": 1},
     "encoding": {
       "x": {"field": "t", "type": "quantitative", "axis": null},
       "y": {"field": "v", "type": "quantitative", "axis": null}}},
    {"data": {"name": "note"}, "mark": {"type": "text", "font": "Liberation Sans", "fontSize": 11, "color": "#000000", "align": "center", "baseline": "middle"},
     "encoding": {
       "x": {"field": "t", "type": "quantitative", "axis": null},
       "y": {"field": "v", "type": "quantitative", "axis": null},
       "text": {"field": "label"}}},
    {"data": {"name": "redB"}, "mark": {"type": "line", "opacity": 0},
     "encoding": {
       "x": {"field": "t", "type": "quantitative", "axis": {"orient": "top", "values": [0,500,1000,1500,2000,2500,3000,3500,4000,4500], "tickSize": -4, "labels": false, "title": null}},
       "y": {"field": "v", "type": "quantitative", "axis": {"orient": "right", "values": [-10,0,10,20,30,40,50,60], "tickSize": -4, "labels": false, "title": null}}}}
  ]
}
]
}
